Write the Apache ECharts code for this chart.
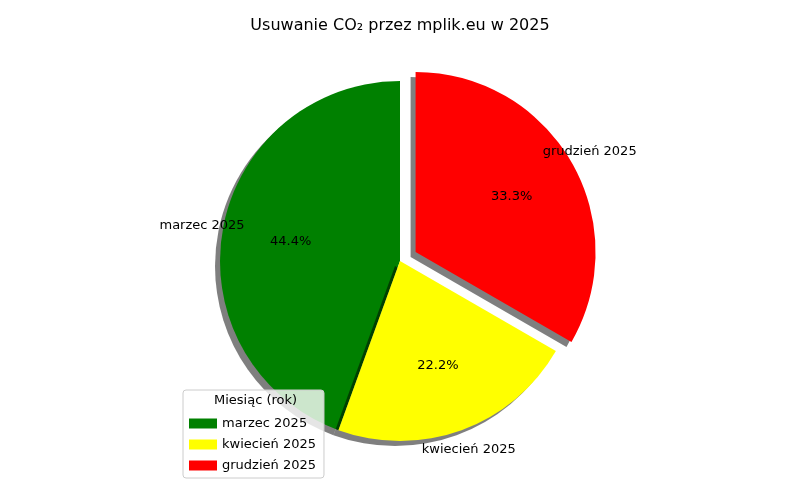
<!DOCTYPE html>
<html><head><meta charset="utf-8">
<script src="https://cdn.jsdelivr.net/npm/echarts@6/dist/echarts.min.js"></script>
<style>html,body{margin:0;padding:0;background:#fff}#c{width:800px;height:500px}</style>
</head><body><div id="c"></div>
<script>
const categories = ['marzec 2025', 'kwiecień 2025', 'grudzień 2025'];
const values = [4, 2, 3];
const colors = ['#008000', '#ffff00', '#ff0000'];
const exploded = [false, false, true];

const total = values.reduce((a, b) => a + b, 0);
let acc = 0;
const aligns = values.map(v => {
  const mid = 90 + (acc + v / 2) / total * 360;
  acc += v;
  return Math.cos(mid * Math.PI / 180) < 0 ? 'right' : 'left';
});
const font = 'DejaVu Sans';
const center = ['400', '261'];
const base = { type: 'pie', center: [400, 261], startAngle: 90, clockwise: false, selectedMode: 'multiple', selectedOffset: 18, animation: false };

const chart = echarts.init(document.getElementById('c'));
chart.setOption({
  title: { text: 'Usuwanie CO₂ przez mplik.eu w 2025', left: 'center', top: 13, textStyle: { fontFamily: font, fontSize: 16, fontWeight: 'normal', color: '#000' } },
  legend: {
    orient: 'vertical', left: 183, top: 390, padding: [27, 8, 6, 6], itemGap: 8,
    itemWidth: 28, itemHeight: 10, icon: 'rect', borderColor: '#ccc', borderWidth: 1, borderRadius: 3,
    backgroundColor: 'rgba(255,255,255,0.8)', data: categories, selectedMode: false,
    textStyle: { fontFamily: font, fontSize: 13, color: '#000' }, z: 10
  },
  graphic: [{ type: 'text', left: 214, top: 394, z: 11, style: { text: 'Miesiąc (rok)', font: '13px "DejaVu Sans"', fill: '#000' } }],
  series: [
    Object.assign({}, base, {
      radius: 180, label: { show: false }, labelLine: { show: false }, silent: true,
      data: categories.map((n, i) => ({ name: n, value: values[i], selected: exploded[i],
        itemStyle: { color: colors[i], shadowColor: 'rgba(0,0,0,0.5)', shadowOffsetX: -5, shadowOffsetY: 5, shadowBlur: 0 } }))
    }),
    Object.assign({}, base, {
      radius: 216, silent: true, labelLine: { show: false },
      label: { show: true, position: 'inside', formatter: p => (p.value / total * 100).toFixed(1) + '%', fontFamily: font, fontSize: 13, color: '#000' },
      data: categories.map((n, i) => ({ name: n, value: values[i], selected: exploded[i], itemStyle: { color: 'rgba(0,0,0,0)' } }))
    }),
    Object.assign({}, base, {
      radius: 396, silent: true, labelLine: { show: false },
      label: { show: true, position: 'inside', formatter: '{b}', fontFamily: font, fontSize: 13, color: '#000' },
      data: categories.map((n, i) => ({ name: n, value: values[i], selected: exploded[i], itemStyle: { color: 'rgba(0,0,0,0)' }, label: { align: aligns[i] } }))
    })
  ]
});
</script></body></html>
